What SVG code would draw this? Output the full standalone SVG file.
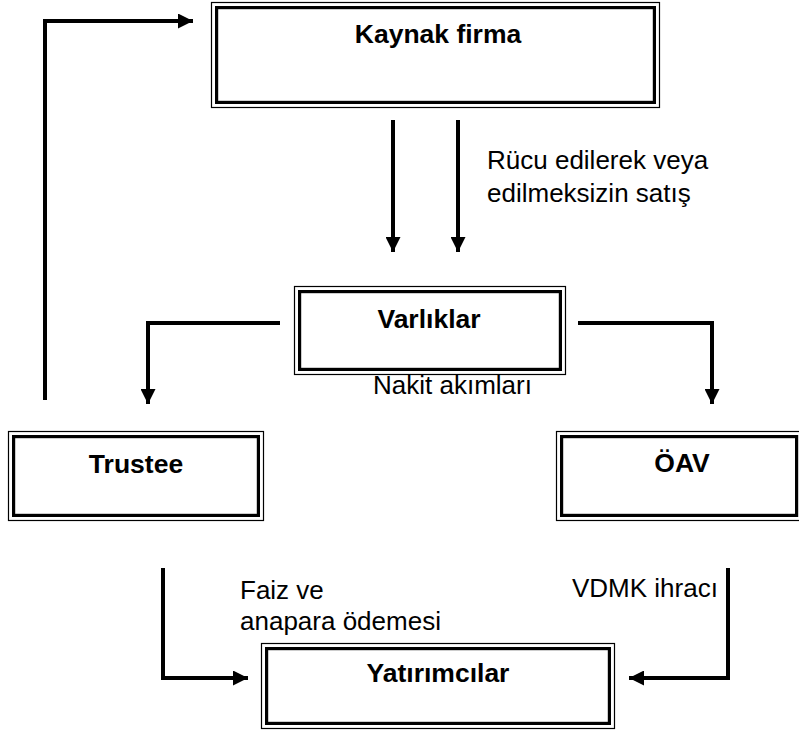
<svg xmlns="http://www.w3.org/2000/svg" width="799" height="733" viewBox="0 0 799 733">
  <defs>
    <marker id="arrow" viewBox="0 0 15 15" refX="15" refY="7.5" markerWidth="15" markerHeight="15" markerUnits="userSpaceOnUse" orient="auto">
      <path d="M0,0 L15,7.5 L0,15 Z" fill="#000"/>
    </marker>
  </defs>
  <style>
    .outer { fill: #fff; stroke: #000; stroke-width: 1.2; }
    .inner { fill: none; stroke: #000; stroke-width: 3.2; }
    .label { font-family: "Liberation Sans", Arial, sans-serif; font-size: 26.5px; font-weight: bold; fill: #000; text-anchor: middle; }
    .note { font-family: "Liberation Sans", Arial, sans-serif; font-size: 26px; fill: #000; }
    .wire { fill: none; stroke: #000; stroke-width: 4; stroke-linejoin: miter; }
  </style>

  <g id="connectors">
    <path class="wire" d="M45,400 V21 H193" marker-end="url(#arrow)"/>
    <path class="wire" d="M393,120 V252" marker-end="url(#arrow)"/>
    <path class="wire" d="M458,120 V252" marker-end="url(#arrow)"/>
    <path class="wire" d="M280,323 H148 V404" marker-end="url(#arrow)"/>
    <path class="wire" d="M578,323 H712 V404" marker-end="url(#arrow)"/>
    <path class="wire" d="M163,568 V678 H248" marker-end="url(#arrow)"/>
    <path class="wire" d="M728,568 V678 H629" marker-end="url(#arrow)"/>
  </g>

  <g id="kaynak-firma">
    <rect class="outer" x="211.5" y="2.5" width="448" height="105"/>
    <rect class="inner" x="216.6" y="7.6" width="437.8" height="94.8"/>
    <text class="label" x="438" y="43">Kaynak firma</text>
  </g>

  <g id="varliklar">
    <rect class="outer" x="294.5" y="286.5" width="271" height="88"/>
    <rect class="inner" x="299.6" y="291.6" width="260.8" height="77.8"/>
    <text class="label" x="429" y="328">Varlıklar</text>
  </g>

  <g id="trustee">
    <rect class="outer" x="8.5" y="431.5" width="255" height="89"/>
    <rect class="inner" x="13.6" y="436.6" width="244.8" height="78.8"/>
    <text class="label" x="136" y="473">Trustee</text>
  </g>

  <g id="oav">
    <rect class="outer" x="556.5" y="431.5" width="247" height="89"/>
    <rect class="inner" x="561.6" y="436.6" width="235" height="78.8"/>
    <text class="label" x="682" y="472">ÖAV</text>
  </g>

  <g id="yatirimcilar">
    <rect class="outer" x="261.5" y="643.5" width="353" height="85"/>
    <rect class="inner" x="266.6" y="648.6" width="342.8" height="74.8"/>
    <text class="label" x="438" y="682">Yatırımcılar</text>
  </g>

  <g id="notes">
    <text class="note" x="487" y="169">Rücu edilerek veya</text>
    <text class="note" x="487" y="202">edilmeksizin satış</text>
    <text class="note" x="373" y="394">Nakit akımları</text>
    <text class="note" x="240" y="599">Faiz ve</text>
    <text class="note" x="240" y="630">anapara ödemesi</text>
    <text class="note" x="572" y="597">VDMK ihracı</text>
  </g>
</svg>
